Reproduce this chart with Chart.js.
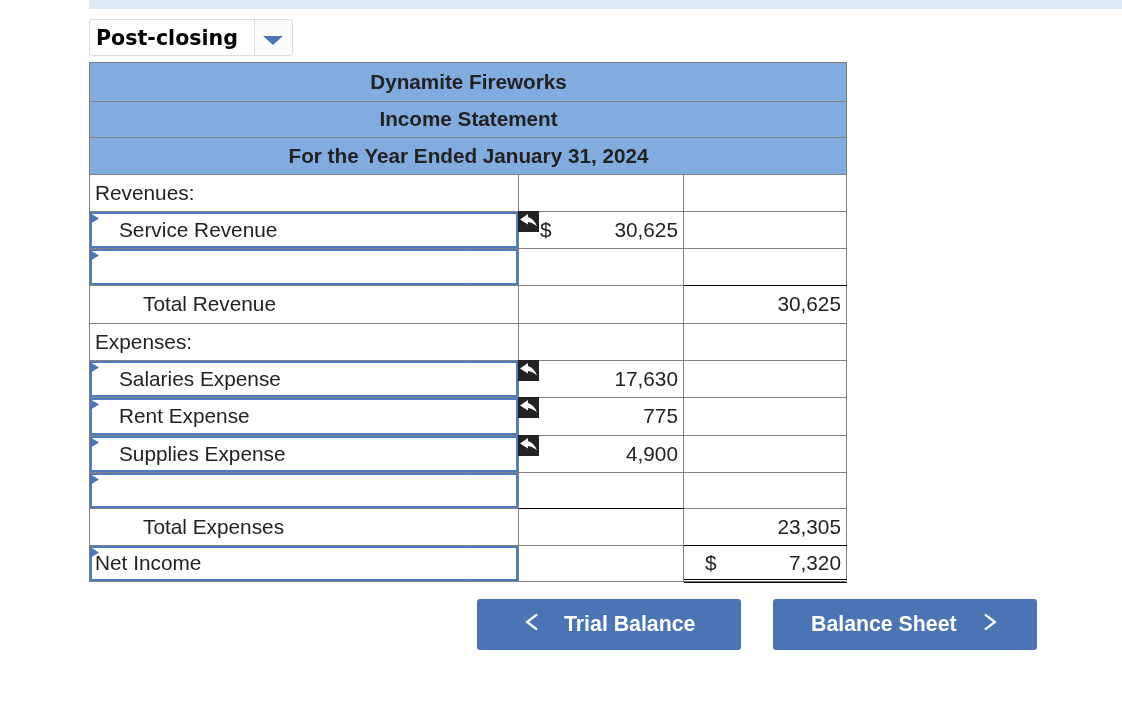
<!DOCTYPE html>
<html>
<head>
<meta charset="utf-8">
<script src="https://cdn.jsdelivr.net/npm/chart.js@4"></script>
<style>
html,body{margin:0;padding:0;background:#fff;width:1122px;height:720px;overflow:hidden}
#c{position:absolute;left:0;top:0}
.bar{position:absolute;left:89px;top:0;width:1033px;height:9px;background:#deebf9}
.dd{position:absolute;left:89px;top:19px;width:202px;height:35px;border:1px solid #dcdcdc;border-radius:3px;background:#fff;font:bold 20.6px "DejaVu Sans",sans-serif;line-height:36px;color:#000}
.dd span{position:absolute;left:6px;top:0}
.dd i{position:absolute;left:164px;top:0;width:37px;height:35px;border-left:1px solid #dcdcdc;background:#fcfcfc;border-radius:0 3px 3px 0}
.dd i:after{content:"";position:absolute;left:8px;top:16px;border-left:10px solid transparent;border-right:10px solid transparent;border-top:9.5px solid #4a76b8}
.btn{position:absolute;top:599px;width:264px;height:51px;background:#4a74b3;border-radius:3px;color:#fff;font:bold 21.3px "Liberation Sans",Arial,sans-serif;line-height:50px}
.btn span{position:absolute;top:0;white-space:nowrap}
.btn svg{position:absolute;top:14px}
</style>
</head>
<body>
<div class="bar"></div>
<canvas id="c" width="1122" height="720"></canvas>
<div class="dd"><span id="ddText"></span><i></i></div>
<div class="btn" style="left:477px"><svg style="left:48px" width="14" height="20"><polyline points="12,1.5 2,9 12,16.5" fill="none" stroke="#fff" stroke-width="2.2"/></svg><span id="btnL" style="left:87px"></span></div>
<div class="btn" style="left:773px"><span id="btnR" style="left:38px"></span><svg style="left:210px" width="14" height="20"><polyline points="2,1.5 12,9 2,16.5" fill="none" stroke="#fff" stroke-width="2.2"/></svg></div>
<script>
const selectorLabel = "Post-closing";
const navLabels = ["Trial Balance", "Balance Sheet"];
const headerLines = ["Dynamite Fireworks", "Income Statement", "For the Year Ended January 31, 2024"];
const rowLabels = ["Revenues:", "Service Revenue", "", "Total Revenue", "Expenses:", "Salaries Expense", "Rent Expense", "Supplies Expense", "", "Total Expenses", "Net Income"];
const rowLevels = [0, 1, 1, 2, 0, 1, 1, 1, 1, 2, 0];
const amountValues = [null, 30625, null, null, null, 17630, 775, 4900, null, null, null];
const totalValues = [null, null, null, 30625, null, null, null, null, null, 23305, 7320];
const amountDollarRows = [1];
const totalDollarRows = [10];
const inputRows = [1, 2, 5, 6, 7, 8, 10];
const feedbackRows = [1, 5, 6, 7];
const amountRuleRows = [9];
const totalRuleRows = [3, 10];

document.getElementById("ddText").textContent = selectorLabel;
document.getElementById("btnL").textContent = navLabels[0];
document.getElementById("btnR").textContent = navLabels[1];

const COL_EDGES = [0, 429, 594, 757];
const ROW_EDGES = [0, 39, 75, 112, 149, 186, 223, 261, 298, 335, 373, 410, 446, 483, 519];
const HEADER_ROWS = 3;
const BODY = '20.8px "Liberation Sans", Arial, sans-serif';
const HEAD = 'bold 20.7px "Liberation Sans", Arial, sans-serif';
const INK = "#222";
const edgeOf = r => ROW_EDGES[r + HEADER_ROWS];
const midOf = r => (edgeOf(r) + edgeOf(r + 1)) / 2;

const tablePlugin = {
  id: "tablePlugin",
  beforeDatasetsDraw(chart) {
    const ctx = chart.ctx, x = chart.scales.x, y = chart.scales.y;
    const L = x.getPixelForValue(0), R = x.getPixelForValue(757);
    ctx.save();
    ctx.fillStyle = "#82abdf";
    ctx.fillRect(L, y.getPixelForValue(edgeOf(-3)), R - L, y.getPixelForValue(edgeOf(0)) - y.getPixelForValue(edgeOf(-3)));
    ctx.strokeStyle = "#7f7f7f"; ctx.lineWidth = 1;
    for (let r = -3; r <= 0; r++) {
      const p = Math.round(y.getPixelForValue(edgeOf(r))) + 0.5;
      ctx.beginPath(); ctx.moveTo(L, p); ctx.lineTo(R + 1, p); ctx.stroke();
    }
    [L, R].forEach(v => {
      const p = Math.round(v) + 0.5;
      ctx.beginPath(); ctx.moveTo(p, y.getPixelForValue(edgeOf(-3))); ctx.lineTo(p, y.getPixelForValue(edgeOf(0))); ctx.stroke();
    });
    inputRows.forEach(r => {
      const t = Math.round(y.getPixelForValue(edgeOf(r))), b = Math.round(y.getPixelForValue(edgeOf(r + 1)));
      const xr = Math.round(x.getPixelForValue(COL_EDGES[1]));
      ctx.strokeStyle = "#4f7cba"; ctx.lineWidth = 2;
      ctx.strokeRect(L + 2, t + 2, xr - L - 3, b - t - 3);
      ctx.fillStyle = "#4a76b8";
      ctx.beginPath(); ctx.moveTo(L + 1, t + 2); ctx.lineTo(L + 10, t + 7.5); ctx.lineTo(L + 1, t + 13); ctx.closePath(); ctx.fill();
    });
    ctx.strokeStyle = "#000"; ctx.lineWidth = 1;
    const rule = (c, r, dy) => {
      const p = Math.round(y.getPixelForValue(edgeOf(r))) + 0.5 + dy;
      ctx.beginPath(); ctx.moveTo(x.getPixelForValue(COL_EDGES[c]) + 1, p); ctx.lineTo(x.getPixelForValue(COL_EDGES[c + 1]) + 1, p); ctx.stroke();
    };
    amountRuleRows.forEach(r => rule(1, r, 0));
    totalRuleRows.forEach(r => rule(2, r, 0));
    rule(2, 11, -2); rule(2, 11, 1);
    feedbackRows.forEach(r => {
      const ix = Math.round(x.getPixelForValue(COL_EDGES[1])), iy = Math.round(y.getPixelForValue(edgeOf(r)));
      ctx.fillStyle = "#222";
      ctx.fillRect(ix, iy, 21, 21);
      ctx.fillStyle = "#fff";
      ctx.beginPath();
      ctx.moveTo(ix + 2, iy + 8.5);
      ctx.lineTo(ix + 10, iy + 3);
      ctx.lineTo(ix + 10, iy + 6);
      ctx.quadraticCurveTo(ix + 16, iy + 7.5, ix + 19, iy + 15.5);
      ctx.quadraticCurveTo(ix + 15, iy + 11.5, ix + 10, iy + 11);
      ctx.lineTo(ix + 10, iy + 13.5);
      ctx.closePath(); ctx.fill();
    });
    ctx.restore();
  },
  afterDatasetsDraw(chart) {
    const ctx = chart.ctx, x = chart.scales.x, y = chart.scales.y;
    const L = x.getPixelForValue(0), R = x.getPixelForValue(757);
    const TY = 1.5;
    ctx.save();
    ctx.fillStyle = INK; ctx.textBaseline = "middle";
    ctx.font = HEAD; ctx.textAlign = "center";
    headerLines.forEach((t, i) => ctx.fillText(t, (L + R) / 2 + 1, y.getPixelForValue(midOf(i - HEADER_ROWS)) + TY));
    ctx.font = BODY; ctx.textAlign = "left";
    rowLabels.forEach((t, r) => ctx.fillText(t, L + 6 + rowLevels[r] * 24, y.getPixelForValue(midOf(r)) + TY));
    ctx.textAlign = "right";
    chart.data.datasets.forEach((ds, di) => {
      chart.getDatasetMeta(di).data.forEach((pt, i) => {
        ctx.fillText(ds.data[i].v.toLocaleString("en-US"), pt.x - 5, pt.y + TY);
      });
    });
    ctx.textAlign = "left";
    amountDollarRows.forEach(r => ctx.fillText("$", x.getPixelForValue(COL_EDGES[1]) + 22, y.getPixelForValue(midOf(r)) + TY));
    totalDollarRows.forEach(r => ctx.fillText("$", x.getPixelForValue(COL_EDGES[2]) + 22, y.getPixelForValue(midOf(r)) + TY));
    ctx.restore();
  }
};

const toPoints = (vals, edge) => vals.map((v, r) => v === null ? null : { x: edge, y: midOf(r), v }).filter(Boolean);

new Chart(document.getElementById("c"), {
  type: "scatter",
  data: {
    datasets: [
      { label: "Amount", data: toPoints(amountValues, COL_EDGES[2]), pointRadius: 0 },
      { label: "Total", data: toPoints(totalValues, COL_EDGES[3]), pointRadius: 0 }
    ]
  },
  options: {
    responsive: false,
    animation: false,
    events: [],
    layout: { padding: { left: 89, top: 62, right: 276, bottom: 139 } },
    plugins: { legend: { display: false }, title: { display: false }, tooltip: { enabled: false } },
    scales: {
      x: {
        type: "linear", min: 0, max: 757,
        afterBuildTicks(s) { s.ticks = COL_EDGES.map(v => ({ value: v })); },
        ticks: { display: false },
        grid: { color: "#808080", drawTicks: false, lineWidth: 1 },
        border: { display: false }
      },
      y: {
        type: "linear", min: 0, max: 519, reverse: true,
        afterBuildTicks(s) { s.ticks = ROW_EDGES.map(v => ({ value: v })); },
        ticks: { display: false },
        grid: { color: "#808080", drawTicks: false, lineWidth: 1 },
        border: { display: false }
      }
    }
  },
  plugins: [tablePlugin]
});
</script>
</body>
</html>
